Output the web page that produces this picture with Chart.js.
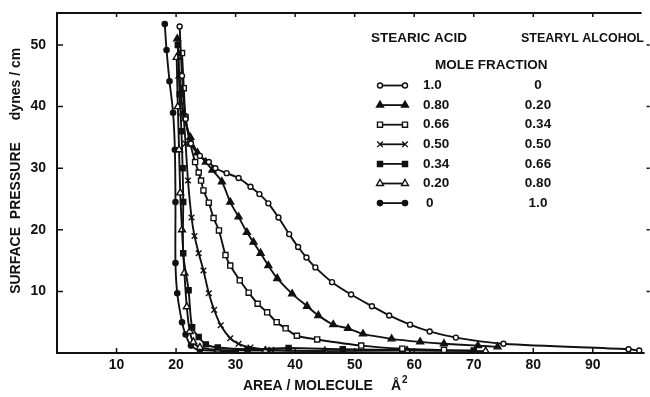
<!DOCTYPE html>
<html>
<head>
<meta charset="utf-8">
<script src="https://cdn.jsdelivr.net/npm/chart.js@4.4.1/dist/chart.umd.min.js"></script>
<style>
  html, body { margin: 0; padding: 0; background: #fff; }
</style>
</head>
<body>
<canvas id="graphIsotherms" width="650" height="397"></canvas>
<script>
// mole fraction of stearic acid : [area (A^2), surface pressure (dynes/cm)]
const acid100 = [[20.6,53],[21.0,45],[21.6,38],[22.5,34],[24,32],[25.5,31],[26.6,30],[28.5,29.2],[30.5,28.4],
    [32.5,27],[34,25.8],[35.5,24.3],[37.2,22],[39,19.3],[40.5,17.2],[41.9,15.5],[43.4,13.9],[46.2,11.5],
    [49.4,9.5],[52.9,7.6],[55.8,6.1],[59.3,4.6],[62.6,3.5],[67,2.5],[75,1.5],[96,0.6],[97.8,0.4]];
const acid080 = [[20.2,51],[20.6,45],[21.2,39],[22.4,35],[23.6,32.5],[25,31],[26.1,29.7],[27.7,27.8],[29.1,24.5],
    [30.5,22.1],[31.9,19.6],[33,18],[34.2,16.2],[35.5,14.2],[37,12.1],[39.5,9.6],[42,7.6],[43.9,6.1],
    [46.4,4.6],[48.9,4],[51.4,3.1],[56.2,2.3],[61,1.8],[65,1.5],[70.7,1.2],[74,1.0]];
const acid066 = [[21,48.7],[21.3,43],[21.6,38.3],[22.4,34],[23.2,31],[23.8,29.3],[24.2,28],[24.6,26.4],[25.5,24.4],
    [26.3,21.9],[27.2,19.9],[28.3,15.9],[29.1,14.2],[30.7,11.8],[32.2,9.8],[33.7,8],[35.3,6.6],[36.9,5],
    [38.4,4],[40.3,2.8],[43.7,2.2],[51.1,1.2],[58,0.7],[65,0.5]];
const acid050 = [[21.3,38],[21.6,34],[22,28],[22.6,22],[23.1,19],[23.8,16.2],[24.6,13.4],[25.5,9.7],[26.4,7],
    [27.5,4.5],[29.1,2.4],[30.5,1.5],[32.5,0.9],[36,0.5],[45,0.3]];
const acid034 = [[20.3,50],[20.6,42],[20.9,36],[21.1,30],[21.2,24.5],[21.2,16.2],[22.1,10.2],[22.7,4.2],[23.8,2.6],
    [25,1.4],[27,0.9],[32,0.6],[38.9,0.8],[48,0.6],[58,0.5],[70,0.4]];
const acid020 = [[20.1,48],[20.3,40],[20.5,33],[20.7,26],[21,20],[21.4,13],[21.8,7.5],[22.3,3.5],[22.9,1.8],
    [24,0.9],[27,0.5],[35,0.4],[45,0.3],[58.8,0.4],[72,0.3]];
const acid000 = [[18.1,53.4],[18.4,49.2],[18.9,44.1],[19.5,39],[19.8,33],[19.9,24.5],[19.9,14.6],[20.2,9.7],
    [21,5],[21.6,3],[22.5,1.2],[24,0.5],[30,0.3]];

const acidFractions = ['1.0', '0.80', '0.66', '0.50', '0.34', '0.20', '0'];
const alcoholFractions = ['0', '0.20', '0.34', '0.50', '0.66', '0.80', '1.0'];

const xTicks = [10, 20, 30, 40, 50, 60, 70, 80, 90];
const yTicks = [10, 20, 30, 40, 50];

const INK = '#111';
const FONT = 'bold 14px "Liberation Sans", Arial, sans-serif';

// marker for each row of the table: [pointStyle, radius, fill]
const markers = [
    ['circle', 2.5, '#fff'],
    ['triangle', 4, INK],
    ['rect', 3.6, '#fff'],
    ['crossRot', 4, INK],
    ['rect', 3.6, INK],
    ['triangle', 4, '#fff'],
    ['circle', 2.6, INK]
];

function series(pairs, idx) {
    const m = markers[idx];
    return {
        data: pairs.map(p => ({x: p[0], y: p[1]})),
        showLine: true,
        borderColor: INK,
        borderWidth: 1.9,
        tension: 0.3,
        pointStyle: m[0],
        pointRadius: m[1],
        pointHoverRadius: m[1],
        pointBackgroundColor: m[2],
        pointBorderColor: INK,
        pointBorderWidth: 1.4
    };
}

/** draws the boxed frame with inward ticks, the tick labels, axis titles and the table legend */
const framePlugin = {
    id: 'frame',
    afterDraw(chart) {
        const ctx = chart.ctx;
        const xs = chart.scales.x, ys = chart.scales.y;
        const L = xs.getPixelForValue(0), B = ys.getPixelForValue(0);
        const T = chart.chartArea.top, R = chart.chartArea.right;
        ctx.save();
        ctx.strokeStyle = INK;
        ctx.fillStyle = INK;
        ctx.lineWidth = 2;
        ctx.beginPath();
        ctx.moveTo(R - 3, T); ctx.lineTo(L, T); ctx.lineTo(L, B); ctx.lineTo(R, B);
        ctx.stroke();

        ctx.lineWidth = 1.5;
        ctx.beginPath();
        xTicks.forEach(v => {
            const px = xs.getPixelForValue(v);
            ctx.moveTo(px, B); ctx.lineTo(px, B - 5);
            ctx.moveTo(px, T); ctx.lineTo(px, T + 4);
        });
        yTicks.forEach(v => {
            const py = ys.getPixelForValue(v);
            ctx.moveTo(L, py); ctx.lineTo(L + 6, py);
            ctx.moveTo(R + 2, py); ctx.lineTo(R + 5, py);
        });
        ctx.stroke();

        ctx.font = FONT;
        ctx.textAlign = 'center';
        ctx.textBaseline = 'middle';
        xTicks.forEach(v => ctx.fillText(String(v), xs.getPixelForValue(v), B + 12));
        ctx.textAlign = 'right';
        yTicks.forEach(v => ctx.fillText(String(v), L - 11, ys.getPixelForValue(v)));

        // axis titles
        ctx.textAlign = 'left';
        ctx.fillText('AREA / MOLECULE', 243, 386);
        ctx.fillText('\u00C5', 391, 386);
        ctx.font = 'bold 10px "Liberation Sans", Arial, sans-serif';
        ctx.fillText('2', 402, 380);
        ctx.font = FONT;
        ctx.save();
        ctx.translate(16, 0);
        ctx.rotate(-Math.PI / 2);
        ctx.textAlign = 'center';
        ctx.fillText('SURFACE  PRESSURE', -218, 0);
        ctx.fillText('dynes / cm', -84, 0);
        ctx.restore();

        // table legend
        ctx.font = 'bold 13.5px "Liberation Sans", Arial, sans-serif';
        ctx.textAlign = 'left';
        ctx.fillText('STEARIC ACID', 371, 38, 97);
        ctx.fillText('STEARYL ALCOHOL', 521, 38, 123);
        ctx.fillText('MOLE FRACTION', 435, 65);
        acidFractions.forEach((label, i) => {
            const y = 85.5 + i * 19.6;
            ctx.textAlign = 'left';
            ctx.fillText(label, label === '0' ? 426 : 423, y);
            ctx.textAlign = 'center';
            ctx.fillText(alcoholFractions[i], 538, y);
            const m = markers[i];
            ctx.lineWidth = 1.8;
            ctx.beginPath();
            ctx.moveTo(380, y); ctx.lineTo(405, y);
            ctx.stroke();
            ctx.lineWidth = 1.4;
            [380, 405].forEach(x => {
                ctx.fillStyle = m[2];
                Chart.helpers.drawPoint(ctx, {pointStyle: m[0], radius: m[1], rotation: 0, borderWidth: 1.4}, x, y);
            });
            ctx.fillStyle = INK;
        });
        ctx.restore();
    }
};

new Chart(document.getElementById('graphIsotherms'), {
    type: 'scatter',
    data: {
        datasets: [acid100, acid080, acid066, acid050, acid034, acid020, acid000].map(series)
    },
    options: {
        responsive: false,
        animation: false,
        layout: { padding: { left: 57, right: 5, top: 13, bottom: 44 } },
        scales: {
            x: { type: 'linear', min: 0, max: 98.7, display: false },
            y: { type: 'linear', min: 0, max: 55.2, display: false }
        },
        plugins: { legend: { display: false }, tooltip: { enabled: false } }
    },
    plugins: [framePlugin]
});
</script>
</body>
</html>
